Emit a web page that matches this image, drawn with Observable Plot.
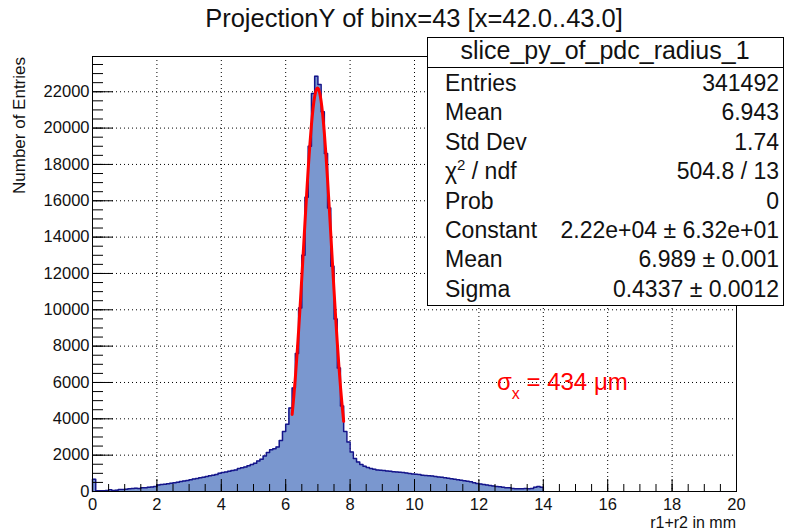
<!DOCTYPE html>
<html><head><meta charset="utf-8">
<script src="https://cdn.jsdelivr.net/npm/d3@7"></script>
<script src="https://cdn.jsdelivr.net/npm/@observablehq/plot@0.6"></script>
<style>body{margin:0;background:#fff}</style>
</head><body><div id="chart"></div>
<script>
// ---- data ----
const binLow = 0, binWidth = 0.1;
const counts = [
  680,40,45,45,55,90,50,70,110,110,
  130,150,160,180,170,200,210,240,250,280,
  360,380,400,420,450,480,510,550,580,610,
  650,690,720,750,790,830,860,890,940,1000,
  1040,1070,1110,1150,1190,1260,1310,1350,1420,1480,
  1560,1680,1780,1950,2150,2300,2350,2450,2800,3300,
  3700,4600,5700,7600,10100,13000,16200,19000,21900,22850,
  22400,20900,18600,15600,12400,9500,6800,4700,3300,2720,
  2170,1820,1620,1490,1390,1320,1260,1220,1190,1170,
  1150,1130,1110,1090,1080,1060,1040,1020,990,970,
  950,930,900,880,860,850,820,800,780,750,
  730,700,680,650,620,590,560,530,480,440,
  410,390,360,330,300,280,260,240,210,200,
  160,150,150,150,160,150,160,230,270,240
];
const fitX = [6.20,6.25,6.30,6.35,6.40,6.45,6.50,6.55,6.60,6.65,6.70,6.75,6.80,6.85,6.90,6.95,7.00,
              7.05,7.10,7.15,7.20,7.25,7.30,7.35,7.40,7.45,7.50,7.55,7.60,7.65,7.70,7.75,7.80];
const fitY = [4243,5199,6285,7499,8827,10254,11757,13300,14850,16355,17780,19074,20189,21088,21738,22111,22193,
              21982,21485,20722,19722,18524,17167,15700,14170,12619,11089,9617,8230,6951,5792,4762,3865];
const xMajorTicks = [0,2,4,6,8,10,12,14,16,18,20];
const xGridTicks = [2,4,6,8,10,12,14,16,18];
const xMinorTicks = d3.range(0, 20.001, 0.5);
const yMajorTicks = [0,2000,4000,6000,8000,10000,12000,14000,16000,18000,20000,22000];
const yGridTicks = [2000,4000,6000,8000,10000,12000,14000,16000,18000,20000,22000];
const yMinorTicks = d3.range(0, 24000, 500);
const titleText = "ProjectionY of binx=43 [x=42.0..43.0]";
const xTitle = "r1+r2 in mm";
const yTitle = "Number of Entries";
const statsName = "slice_py_of_pdc_radius_1";
const statsLabels = ["Entries","Mean","Std Dev","CHI","Prob","Constant","Mean","Sigma"];
const statsValues = ["341492","6.943","1.74","504.8 / 13","0","2.22e+04 \u00b1 6.32e+01","6.989 \u00b1 0.001","0.4337 \u00b1 0.0012"];

// ---- derived tables ----
const outline = [{x: binLow, y: 0}];
counts.forEach((c, i) => outline.push({x: +(binLow + i * binWidth).toFixed(2), y: c}));
const histHigh = +(binLow + counts.length * binWidth).toFixed(2);
outline.push({x: histHigh, y: counts[counts.length - 1]});
outline.push({x: histHigh, y: 0});
const fit = fitX.map((x, i) => ({x, y: fitY[i]}));

const font = "'Liberation Sans', Arial, Helvetica, sans-serif";
const innerH = 435, innerW = 644;

const chart = Plot.plot({
  width: 788, height: 531,
  marginLeft: 92, marginRight: 52, marginTop: 56, marginBottom: 40,
  style: {fontFamily: font, background: "white", color: "#000", overflow: "visible"},
  x: {domain: [0, 20], axis: null},
  y: {domain: [0, 23940], axis: null},
  marks: [
    Plot.ruleX(xGridTicks, {x: d => d, stroke: "#000", strokeWidth: 1, strokeDasharray: "1,3"}),
    Plot.ruleY(yGridTicks, {y: d => d, stroke: "#000", strokeWidth: 1, strokeDasharray: "1,3"}),
    Plot.areaY(outline, {x: "x", y: "y", curve: "step-after", fill: "#7a97cf"}),
    Plot.lineY(outline, {x: "x", y: "y", curve: "step-after", stroke: "#15158a", strokeWidth: 1.5}),
    Plot.line(fit, {x: "x", y: "y", curve: "natural", stroke: "#ff0000", strokeWidth: 3}),
    Plot.tickX(xMinorTicks, {x: d => d, insetTop: innerH - 7, stroke: "#000"}),
    Plot.tickX(xMajorTicks, {x: d => d, insetTop: innerH - 12, stroke: "#000"}),
    Plot.tickY(yMinorTicks, {y: d => d, insetRight: innerW - 11, stroke: "#000"}),
    Plot.tickY(yMajorTicks, {y: d => d, insetRight: innerW - 21, stroke: "#000"}),
    Plot.frame({stroke: "#000"}),
    Plot.text(xMajorTicks, {x: d => d, frameAnchor: "bottom", lineAnchor: "top", dy: 7, text: d => String(d), fontSize: 16.5, fill: "#111"}),
    Plot.text(yMajorTicks, {y: d => d, frameAnchor: "left", textAnchor: "end", dx: -3, text: d => String(d), fontSize: 16.5, fill: "#111"})
  ]
});
document.getElementById("chart").appendChild(chart);

// ---- annotations ----
const svg = d3.select(chart);
svg.append("text").attr("x", 414).attr("y", 27).attr("text-anchor", "middle")
  .attr("font-family", font).attr("font-size", 25.5).attr("fill", "#111").text(titleText);
svg.append("text").attr("transform", "translate(25,57) rotate(-90)").attr("text-anchor", "end")
  .attr("font-family", font).attr("font-size", 17).attr("fill", "#111").text(yTitle);
svg.append("text").attr("x", 736).attr("y", 528).attr("text-anchor", "end")
  .attr("font-family", font).attr("font-size", 16).attr("fill", "#111").text(xTitle);

const g = svg.append("g").attr("font-family", font).attr("fill", "#111");
g.append("rect").attr("x", 427.5).attr("y", 37.5).attr("width", 356).attr("height", 268)
  .attr("fill", "white").attr("stroke", "#000").attr("stroke-width", 1);
g.append("line").attr("x1", 427.5).attr("x2", 783.5).attr("y1", 67.5).attr("y2", 67.5).attr("stroke", "#000");
g.append("text").attr("x", 605).attr("y", 59).attr("text-anchor", "middle").attr("font-size", 25).text(statsName);
statsLabels.forEach((lab, i) => {
  const yb = 91 + i * 29.4;
  const t = g.append("text").attr("x", 445).attr("y", yb).attr("text-anchor", "start").attr("font-size", 23);
  if (lab === "CHI") {
    t.append("tspan").text("\u03c7");
    t.append("tspan").attr("dy", -9).attr("font-size", 15).text("2");
    t.append("tspan").attr("dy", 9).text(" / ndf");
  } else t.text(lab);
  g.append("text").attr("x", 779).attr("y", yb).attr("text-anchor", "end").attr("font-size", 23).text(statsValues[i]);
});

const red = svg.append("text").attr("x", 497).attr("y", 390).attr("text-anchor", "start").attr("font-family", font)
  .attr("font-size", 24).attr("fill", "#ff0000");
red.append("tspan").text("\u03c3");
red.append("tspan").attr("dy", 9).attr("font-size", 16).text("x");
red.append("tspan").attr("dy", -9).text(" = 434 \u03bcm");
</script>
</body></html>
